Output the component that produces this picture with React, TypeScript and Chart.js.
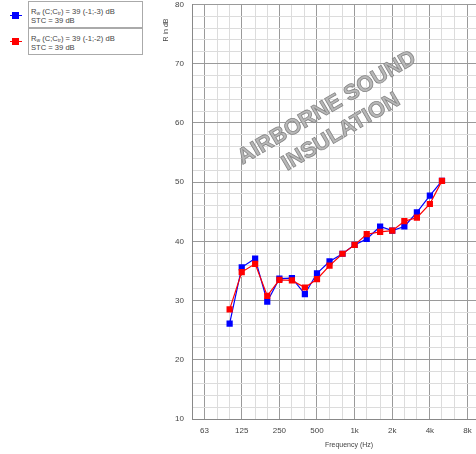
import React, { useEffect, useRef } from "react";
import { Chart, registerables } from "chart.js";

Chart.register(...registerables);

// 1/3-octave band centre frequencies (Hz)
const frequencies = [100, 125, 160, 200, 250, 315, 400, 500, 630, 800, 1000, 1250, 1600, 2000, 2500, 3150, 4000, 5000];
// Series 1 (blue): Rw (C;Ctr) = 39 (-1;-3) dB
const blueValues = [26.1, 35.6, 37.1, 29.8, 33.7, 33.8, 31.1, 34.6, 36.6, 37.9, 39.4, 40.4, 42.5, 41.8, 42.5, 44.9, 47.7, 50.2];
// Series 2 (red): Rw (C;Ctr) = 39 (-1;-2) dB
const redValues = [28.5, 34.8, 36.2, 30.8, 33.5, 33.4, 32.2, 33.6, 35.9, 37.9, 39.4, 41.2, 41.6, 41.8, 43.4, 44.0, 46.3, 50.2];

// x grid (1/3 octave) and labelled octave ticks
const xGridTicks = [50, 63, 80, 100, 125, 160, 200, 250, 315, 400, 500, 630, 800, 1000, 1250, 1600, 2000, 2500, 3150, 4000, 5000, 6300, 8000, 10000];
const xOctaveTicks = [63, 125, 250, 500, 1000, 2000, 4000, 8000];
const xOctaveLabels = ["63", "125", "250", "500", "1k", "2k", "4k", "8k"];

const yMin = 10;
const yMax = 80;

const FONT = "'Liberation Sans', Arial, sans-serif";

const overlayPlugin = {
  id: "overlay",
  beforeDatasetsDraw(chart: any) {
    const ctx = chart.ctx;
    ctx.save();
    ctx.translate(334, 120);
    ctx.rotate((-30.5 * Math.PI) / 180);
    ctx.font = `bold 22px ${FONT}`;
    ctx.textAlign = "center";
    ctx.textBaseline = "middle";
    ctx.fillStyle = "#b8b8b8";
    ctx.strokeStyle = "#858585";
    ctx.lineWidth = 0.8;
    ctx.fillText("AIRBORNE SOUND", 0, -14);
    ctx.strokeText("AIRBORNE SOUND", 0, -14);
    ctx.fillText("INSULATION", 0, 14);
    ctx.strokeText("INSULATION", 0, 14);
    ctx.restore();
  },
  afterDraw(chart: any) {
    const ctx = chart.ctx;
    ctx.save();
    ctx.fillStyle = "#444";
    ctx.font = `7px ${FONT}`;
    ctx.textAlign = "center";
    ctx.textBaseline = "middle";
    ctx.fillText("Frequency (Hz)", 349, 445);
    ctx.translate(166, 30);
    ctx.rotate(-Math.PI / 2);
    ctx.fillText("R in dB", 0, 0);
    ctx.restore();
  },
};

export default function App() {
  const canvasRef = useRef<HTMLCanvasElement | null>(null);

  useEffect(() => {
    const canvas = canvasRef.current;
    if (!canvas) return;
    const chart = new Chart(canvas, {
      type: "line",
      data: {
        datasets: [
          {
            label: "red",
            data: frequencies.map((f, i) => ({ x: f, y: redValues[i] })),
            borderColor: "#ff0000",
            backgroundColor: "#ff0000",
            borderWidth: 1.2,
            pointStyle: "rect",
            pointRadius: 4.4,
            pointBorderWidth: 0,
            pointBackgroundColor: "#ff0000",
          },
          {
            label: "blue",
            data: frequencies.map((f, i) => ({ x: f, y: blueValues[i] })),
            borderColor: "#0000ff",
            backgroundColor: "#0000ff",
            borderWidth: 1.2,
            pointStyle: "rect",
            pointRadius: 4.4,
            pointBorderWidth: 0,
            pointBackgroundColor: "#0000ff",
          },
        ],
      },
      options: {
        responsive: false,
        animation: false,
        devicePixelRatio: 1,
        layout: { padding: { left: 0, top: 3, right: 1, bottom: 0 } },
        plugins: {
          legend: { display: false },
          tooltip: { enabled: false },
          title: { display: false },
        },
        scales: {
          x: {
            type: "logarithmic",
            min: 50,
            max: 10000,
            afterBuildTicks: (scale: any) => {
              scale.ticks = xGridTicks.map((v) => ({ value: v }));
            },
            afterFit: (scale: any) => {
              scale.height = 35;
              scale.paddingLeft = 0;
              scale.paddingRight = 0;
            },
            ticks: {
              autoSkip: false,
              maxRotation: 0,
              minRotation: 0,
              padding: 7,
              color: "#444",
              font: { size: 8, family: FONT },
              callback: (value: any) => {
                const idx = xOctaveTicks.indexOf(Number(value));
                return idx >= 0 ? xOctaveLabels[idx] : "";
              },
            },
            grid: {
              drawTicks: false,
              color: (c: any) =>
                c.tick && xOctaveTicks.indexOf(c.tick.value) >= 0 ? "#9a9a9a" : "#dcdcdc",
              lineWidth: 1,
            },
            border: { color: "#888" },
          },
          y: {
            type: "linear",
            min: yMin,
            max: yMax,
            afterFit: (scale: any) => {
              scale.width = 192;
              scale.paddingTop = 0;
              scale.paddingBottom = 0;
            },
            ticks: {
              stepSize: 2,
              autoSkip: false,
              padding: 8,
              color: "#444",
              font: { size: 8, family: FONT },
              callback: (value: any) => (Number(value) % 10 === 0 ? String(value) : ""),
            },
            grid: {
              drawTicks: false,
              color: (c: any) => (c.tick && c.tick.value % 10 === 0 ? "#9a9a9a" : "#dcdcdc"),
              lineWidth: 1,
            },
            border: { color: "#888" },
          },
        },
      },
      plugins: [overlayPlugin],
    } as any);
    return () => chart.destroy();
  }, []);

  const boxStyle: React.CSSProperties = {
    position: "absolute",
    left: 28,
    width: 115,
    height: 27,
    border: "1px solid #aaa",
    fontFamily: FONT,
    fontSize: 7.6,
    color: "#444",
    lineHeight: "9px",
    boxSizing: "border-box",
    padding: "5px 0 0 2px",
    background: "#fff",
  };
  const subStyle: React.CSSProperties = { fontSize: 5, verticalAlign: "-1px", lineHeight: 0 };

  const marker = (top: number, color: string) => (
    <div style={{ position: "absolute", left: 10, top: top, width: 12, height: 7 }}>
      <div style={{ position: "absolute", left: 0, top: 3, width: 12, height: 1, background: color }} />
      <div style={{ position: "absolute", left: 2, top: 0, width: 7, height: 7, background: color }} />
    </div>
  );

  return (
    <div
      style={{
        position: "fixed",
        left: 0,
        top: 0,
        width: 476,
        height: 454,
        overflow: "hidden",
        background: "#fff",
      }}
    >
      <canvas ref={canvasRef} width={484} height={454} style={{ display: "block", width: 484, height: 454 }} />
      {marker(12, "#0000ff")}
      {marker(38, "#ff0000")}
      <div style={{ ...boxStyle, top: 1 }}>
        <div>
          R<sub style={subStyle}>w</sub> (C;C<sub style={subStyle}>tr</sub>) = 39 (-1;-3) dB
        </div>
        <div>STC = 39 dB</div>
      </div>
      <div style={{ ...boxStyle, top: 28 }}>
        <div>
          R<sub style={subStyle}>w</sub> (C;C<sub style={subStyle}>tr</sub>) = 39 (-1;-2) dB
        </div>
        <div>STC = 39 dB</div>
      </div>
    </div>
  );
}
